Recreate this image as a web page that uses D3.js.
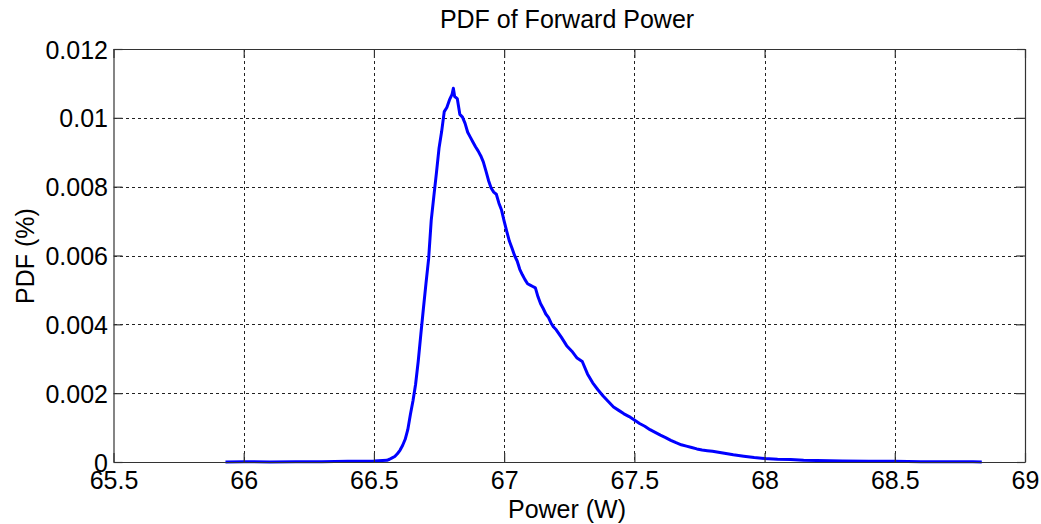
<!DOCTYPE html>
<html>
<head>
<meta charset="utf-8">
<script src="https://cdn.jsdelivr.net/npm/d3@7"></script>
<style>
  html, body { margin: 0; padding: 0; background: #fff; }
  svg text { font-family: Arial, "Liberation Sans", sans-serif; fill: #000; }
</style>
</head>
<body>
<svg id="chart" width="1041" height="524"></svg>
<script>
// ---- data ----
const titleText = "PDF of Forward Power";
const xLabelText = "Power (W)";
const yLabelText = "PDF (%)";
const xTicks = [65.5, 66, 66.5, 67, 67.5, 68, 68.5, 69];
const xTickLabels = ["65.5", "66", "66.5", "67", "67.5", "68", "68.5", "69"];
const yTicks = [0, 0.002, 0.004, 0.006, 0.008, 0.01, 0.012];
const yTickLabels = ["0", "0.002", "0.004", "0.006", "0.008", "0.01", "0.012"];

const power = [
  65.93, 66.00, 66.10, 66.20, 66.30, 66.40, 66.50, 66.55, 66.56, 66.57,
  66.58, 66.59, 66.60, 66.61, 66.62, 66.63, 66.64, 66.65, 66.66, 66.67,
  66.68, 66.69, 66.70, 66.71, 66.72, 66.73, 66.74, 66.75, 66.76, 66.77,
  66.78, 66.79, 66.80, 66.805, 66.81, 66.82, 66.83, 66.84, 66.85, 66.86,
  66.87, 66.88, 66.89, 66.90, 66.91, 66.92, 66.93, 66.94, 66.95, 66.96,
  66.97, 66.98, 66.99, 67.00, 67.01, 67.02, 67.03, 67.04, 67.05, 67.06,
  67.07, 67.08, 67.09, 67.10, 67.11, 67.12, 67.13, 67.14, 67.15, 67.16,
  67.17, 67.18, 67.19, 67.20, 67.22, 67.24, 67.26, 67.28, 67.30, 67.32,
  67.34, 67.36, 67.38, 67.40, 67.42, 67.44, 67.46, 67.48, 67.50, 67.52,
  67.54, 67.56, 67.58, 67.60, 67.62, 67.64, 67.66, 67.68, 67.70, 67.72,
  67.74, 67.76, 67.78, 67.80, 67.84, 67.88, 67.92, 67.96, 68.00, 68.05,
  68.10, 68.15, 68.20, 68.30, 68.40, 68.50, 68.60, 68.70, 68.80, 68.834
];
const pdf = [
  0, 0.00001, 0, 0.00001, 0.00001, 0.00002, 0.00003, 0.00005, 0.00008, 0.00012,
  0.00016, 0.00024, 0.00034, 0.00048, 0.00066, 0.00094, 0.00138, 0.00178, 0.00226, 0.00292,
  0.00370, 0.00446, 0.00520, 0.00590, 0.00702, 0.00772, 0.00840, 0.00912, 0.00960, 0.01018,
  0.01030, 0.01052, 0.01068, 0.01086, 0.01062, 0.01056, 0.01010, 0.01002, 0.00984, 0.00958,
  0.00944, 0.00930, 0.00916, 0.00904, 0.00890, 0.00872, 0.00846, 0.00818, 0.00796, 0.00784,
  0.00778, 0.00752, 0.00732, 0.00700, 0.00670, 0.00642, 0.00622, 0.00600, 0.00584, 0.00560,
  0.00544, 0.00530, 0.00518, 0.00514, 0.00510, 0.00506, 0.00480, 0.00460, 0.00446, 0.00430,
  0.00420, 0.00404, 0.00392, 0.00384, 0.00362, 0.00338, 0.00322, 0.00302, 0.00292, 0.00256,
  0.00230, 0.00210, 0.00192, 0.00176, 0.00160, 0.00150, 0.00140, 0.00132, 0.00122, 0.00112,
  0.00104, 0.00094, 0.00086, 0.00078, 0.00071, 0.00063, 0.00056, 0.00050, 0.00046, 0.00042,
  0.00038, 0.00035, 0.00033, 0.00031, 0.00026, 0.00021, 0.00017, 0.00013, 0.00010, 0.00008,
  0.00007, 0.00005, 0.00004, 0.00003, 0.00002, 0.00002, 0.00001, 0.00001, 0.00001, 0
];

// ---- layout ----
const svg = d3.select("#chart");
const margin = { left: 113.5, top: 49, right: 1025, bottom: 462 };
const x = d3.scaleLinear().domain([65.5, 69]).range([margin.left, margin.right]);
const y = d3.scaleLinear().domain([0, 0.012]).range([margin.bottom, margin.top]);
const fontSize = 25;
const tickLen = 9;
const axisColor = "#333";

svg.append("rect").attr("width", 1041).attr("height", 524).attr("fill", "#fff");

// grid
const grid = svg.append("g").attr("stroke", "#222").attr("stroke-width", 1)
  .attr("stroke-dasharray", "3,3").attr("shape-rendering", "crispEdges");
xTicks.slice(1, -1).forEach(v => {
  grid.append("line").attr("x1", Math.round(x(v)) + 0.5).attr("x2", Math.round(x(v)) + 0.5)
    .attr("y1", y(0.012)).attr("y2", y(0));
});
yTicks.slice(1, -1).forEach(v => {
  grid.append("line").attr("y1", Math.round(y(v)) + 0.5).attr("y2", Math.round(y(v)) + 0.5)
    .attr("x1", x(65.5)).attr("x2", x(69));
});

// data line
const line = d3.line().x((d, i) => x(power[i])).y((d, i) => y(pdf[i]));
svg.append("path").datum(pdf).attr("d", line)
  .attr("fill", "none").attr("stroke", "#0000ff").attr("stroke-width", 3)
  .attr("stroke-linejoin", "round");

// axes via d3 axis generators (inner ticks on all four sides)
const xAxisB = d3.axisBottom(x).tickValues(xTicks).tickSizeInner(-tickLen).tickSizeOuter(0)
  .tickFormat((d, i) => xTickLabels[i]).tickPadding(tickLen + 8);
const xAxisT = d3.axisTop(x).tickValues(xTicks).tickSizeInner(-tickLen).tickSizeOuter(0).tickFormat("");
const yAxisL = d3.axisLeft(y).tickValues(yTicks).tickSizeInner(-tickLen).tickSizeOuter(0)
  .tickFormat((d, i) => yTickLabels[i]).tickPadding(tickLen + 6);
const yAxisR = d3.axisRight(y).tickValues(yTicks).tickSizeInner(-tickLen).tickSizeOuter(0).tickFormat("");

function style(g) {
  g.selectAll("path, line").attr("stroke", axisColor).attr("stroke-width", 1.2);
  g.selectAll("text").attr("font-size", fontSize).attr("fill", "#000")
    .attr("font-family", "Arial, 'Liberation Sans', sans-serif");
}
svg.append("g").attr("transform", `translate(0,${margin.bottom})`).call(xAxisB).call(style)
  .selectAll("text").attr("dy", null).attr("y", 27);
svg.append("g").attr("transform", `translate(0,${margin.top})`).call(xAxisT).call(style);
svg.append("g").attr("transform", `translate(${margin.left},0)`).call(yAxisL).call(style)
  .selectAll("text").attr("x", -5.5).attr("dy", "0.36em");
svg.append("g").attr("transform", `translate(${margin.right},0)`).call(yAxisR).call(style);

// title and labels
svg.append("text").attr("x", 567).attr("y", 28).attr("text-anchor", "middle")
  .attr("font-size", fontSize).text(titleText);
svg.append("text").attr("x", 567).attr("y", 518).attr("text-anchor", "middle")
  .attr("font-size", fontSize).text(xLabelText);
svg.append("text").attr("transform", "translate(34,256) rotate(-90)").attr("text-anchor", "middle")
  .attr("font-size", fontSize).text(yLabelText);
</script>
</body>
</html>
